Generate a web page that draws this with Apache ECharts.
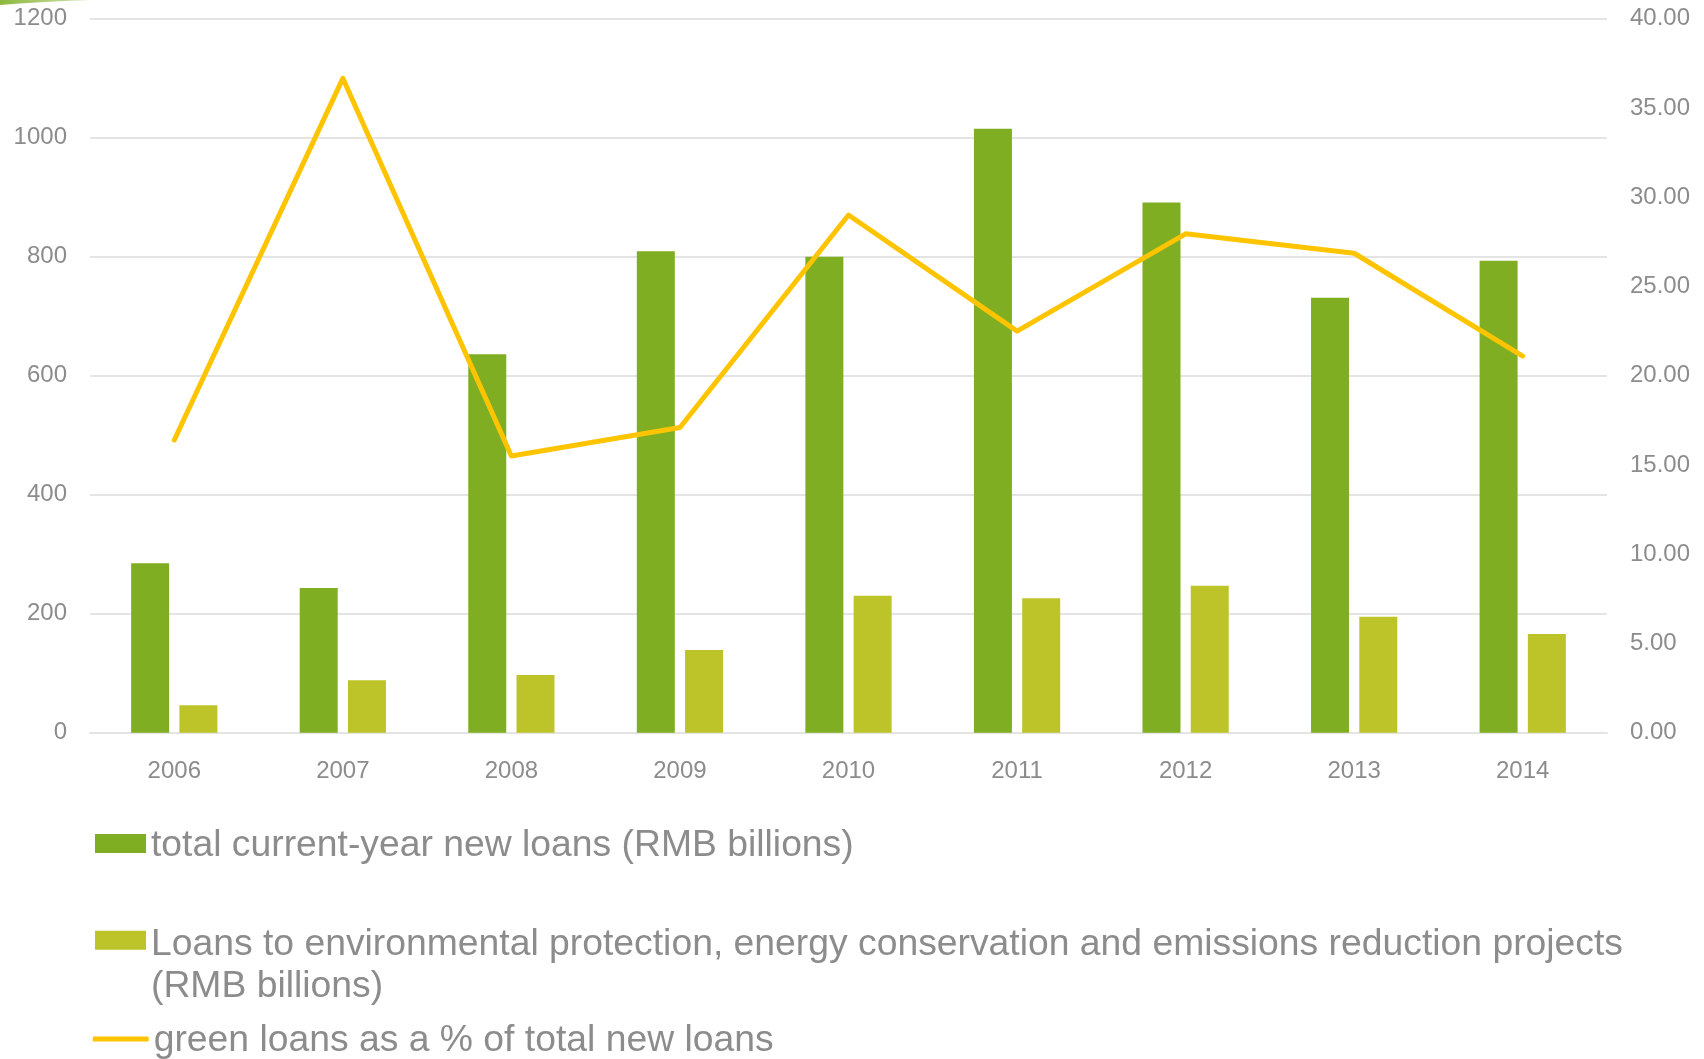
<!DOCTYPE html>
<html>
<head>
<meta charset="utf-8">
<title>Green loans 2006-2014</title>
<script src="https://cdn.jsdelivr.net/npm/echarts@6/dist/echarts.min.js"></script>
<style>
  html, body { margin: 0; padding: 0; background: #ffffff; }
  #chart { width: 1704px; height: 1059px; }
</style>
</head>
<body>
<div id="chart"></div>
<script>
// Years on the category axis
const years = ['2006', '2007', '2008', '2009', '2010', '2011', '2012', '2013', '2014'];

// Total new loans issued in the year (RMB billions)
const totalLoans = [285, 243, 636, 809, 800, 1015, 891, 731, 793];

// Loans to environmental protection, energy conservation and emissions reduction (RMB billions)
const greenLoans = [46, 88, 97, 139, 230, 226, 247, 195, 166];

// Green loans as a share of total new loans (%)
const greenShare = [16.4, 36.66, 15.5, 17.1, 29.0, 22.5, 27.95, 26.86, 21.1];

// Series names shown in the legend
const nameTotal = 'total current-year new loans (RMB billions)';
const nameGreen = 'Loans to environmental protection, energy conservation and emissions reduction projects (RMB billions)';
const nameShare = 'green loans as a % of total new loans';

const textGrey = '#8c8c8c';
const gridGrey = '#e4e4e4';
const fontFamily = '"Liberation Sans", Arial, Helvetica, sans-serif';

const chart = echarts.init(document.getElementById('chart'), null, { renderer: 'canvas' });

// Legend text: a thin spacer line on top lowers the text a little against the swatch
function legendText(gap) {
  return {
    color: textGrey,
    fontSize: 37.3,
    fontFamily: fontFamily,
    rich: {
      gap: { fontSize: 1, lineHeight: gap },
      t: { color: textGrey, fontSize: 37.3, fontFamily: fontFamily, lineHeight: 42 }
    }
  };
}

chart.setOption({
  backgroundColor: '#ffffff',
  animation: false,
  textStyle: { fontFamily: fontFamily },
  graphic: [
    {
      // small green swoosh in the upper-left corner
      type: 'polygon',
      left: 0,
      top: 0,
      shape: { points: [[0, 0], [92, 0], [70, 0.8], [45, 2], [20, 3.6], [0, 5]] },
      style: {
        fill: {
          type: 'linear', x: 0, y: 0, x2: 1, y2: 0,
          colorStops: [
            { offset: 0, color: '#8db83c' },
            { offset: 1, color: '#d6e6b5' }
          ]
        }
      },
      silent: true
    }
  ],
  grid: {
    left: 90,
    right: 97,
    top: 18.7,
    bottom: 326.3,
    containLabel: false
  },
  legend: [
    {
      data: [nameTotal],
      orient: 'vertical',
      left: 95,
      top: 822,
      padding: 0,
      itemWidth: 51,
      itemHeight: 19,
      icon: 'rect',
      selectedMode: false,
      formatter: function (name) { return '{gap| }\n{t|' + name + '}'; },
      textStyle: legendText(4.4)
    },
    {
      data: [nameGreen],
      orient: 'vertical',
      left: 95,
      top: 897.7,
      padding: 0,
      itemWidth: 51,
      itemHeight: 19,
      icon: 'rect',
      selectedMode: false,
      formatter: function () {
        return '{gap| }\n{t|Loans to environmental protection, energy conservation and emissions reduction projects}\n{t|(RMB billions)}';
      },
      textStyle: legendText(50.6)
    },
    {
      data: [nameShare],
      orient: 'vertical',
      left: 92.7,
      top: 1017.5,
      padding: 0,
      itemWidth: 56,
      itemHeight: 5,
      icon: 'roundRect',
      selectedMode: false,
      formatter: function (name) { return '{gap| }\n{t|' + name + '}'; },
      textStyle: legendText(4.4)
    }
  ],
  xAxis: {
    type: 'category',
    data: years,
    axisLine: { show: true, lineStyle: { color: gridGrey, width: 2 } },
    axisTick: { show: false },
    axisLabel: { color: textGrey, fontSize: 24, margin: 27 },
    splitLine: { show: false }
  },
  yAxis: [
    {
      type: 'value',
      min: 0,
      max: 1200,
      interval: 200,
      axisLine: { show: false },
      axisTick: { show: false },
      axisLabel: {
        color: textGrey,
        fontSize: 24,
        margin: 23,
        formatter: function (v) { return String(v); }
      },
      splitLine: { show: true, lineStyle: { color: gridGrey, width: 2 } }
    },
    {
      type: 'value',
      min: 0,
      max: 40,
      interval: 5,
      position: 'right',
      axisLine: { show: false },
      axisTick: { show: false },
      axisLabel: {
        color: textGrey,
        fontSize: 24,
        margin: 23,
        formatter: function (v) { return v.toFixed(2); }
      },
      splitLine: { show: false }
    }
  ],
  series: [
    {
      name: nameTotal,
      type: 'bar',
      data: totalLoans,
      barWidth: 38,
      barGap: '27%',
      itemStyle: { color: '#7fae23' }
    },
    {
      name: nameGreen,
      type: 'bar',
      data: greenLoans,
      barWidth: 38,
      itemStyle: { color: '#bdc42a' }
    },
    {
      name: nameShare,
      type: 'line',
      yAxisIndex: 1,
      data: greenShare,
      symbol: 'none',
      itemStyle: { color: '#ffc400' },
      lineStyle: { color: '#ffc400', width: 5, cap: 'round', join: 'round' },
      z: 5
    }
  ]
});
</script>
</body>
</html>
